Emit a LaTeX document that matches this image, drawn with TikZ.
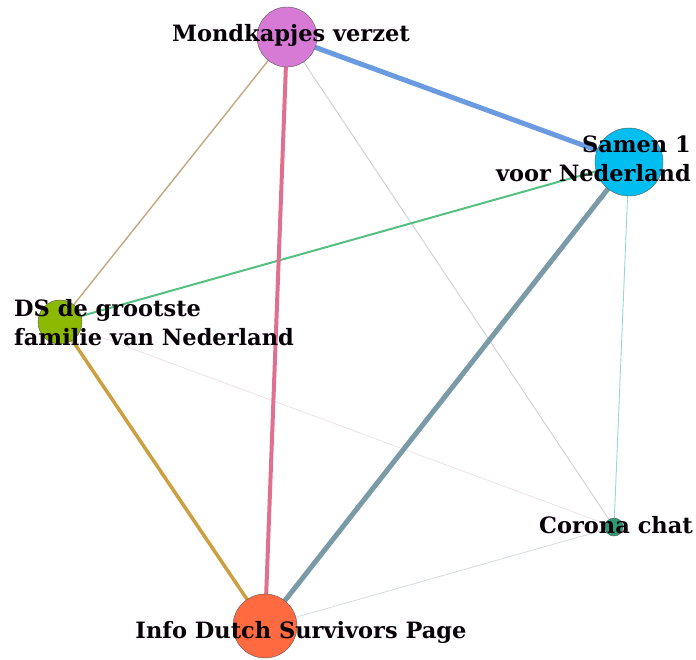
\documentclass[tikz,border=0pt]{standalone}
\usepackage{fontspec}
\setmainfont{DejaVu Serif}
\usetikzlibrary{backgrounds}

\definecolor{mondcol}{HTML}{D67AD6}
\definecolor{samencol}{HTML}{00BFF0}
\definecolor{dscol}{HTML}{8BB800}
\definecolor{coronacol}{HTML}{2E9A72}
\definecolor{infocol}{HTML}{FF6A40}

\begin{document}
\begin{tikzpicture}
[x=1pt,y=-1pt,line cap=round,%
  group/.style={shape=circle,inner sep=0pt,draw=black!65,thin},%
  tag/.style={font=\bfseries\fontsize{22.5}{29}\selectfont,text=black!95!violet,inner sep=0pt}]
\useasboundingbox (0,0) rectangle (696,659);
\node[group,minimum size=60pt,fill=mondcol] (mond) at (287,37) {};
\node[group,minimum size=68pt,fill=samencol] (samen) at (629,162) {};
\node[group,minimum size=44pt,fill=dscol] (ds) at (60,322) {};
\node[group,minimum size=18pt,fill=coronacol] (corona) at (614,527) {};
\node[group,minimum size=64pt,fill=infocol] (info) at (265,626) {};
\begin{scope}[on background layer]
  \draw[line width=0.8pt,color={rgb,255:red,238;green,226;blue,234}] (ds.center) -- (corona.center);
  \draw[line width=0.8pt,color={rgb,255:red,214;green,220;blue,224}] (info.center) -- (corona.center);
  \draw[line width=0.9pt,color={rgb,255:red,208;green,208;blue,208}] (mond.center) -- (corona.center);
  \draw[line width=0.9pt,color={rgb,255:red,150;green,214;blue,224}] (samen.center) -- (corona.center);
  \draw[line width=1.4pt,color={rgb,255:red,196;green,166;blue,128}] (mond.center) -- (ds.center);
  \draw[line width=2pt,color={rgb,255:red,84;green,192;blue,130}] (samen.center) -- (ds.center);
  \draw[line width=3.5pt,color={rgb,255:red,204;green,160;blue,64}] (ds.center) -- (info.center);
  \draw[line width=4pt,color={rgb,255:red,224;green,112;blue,144}] (mond.center) -- (info.center);
  \draw[line width=5pt,color={rgb,255:red,122;green,154;blue,168}] (samen.center) -- (info.center);
  \draw[line width=5pt,color={rgb,255:red,106;green,155;blue,224}] (mond.center) -- (samen.center);
\end{scope}
% labels
\node[tag] (mondtxt) at (291,35) {Mondkapjes verzet};
\node[tag,align=right,anchor=east] (samentxt) at (691,159) {Samen 1\\voor Nederland};
\node[tag,align=left,anchor=west] (dstxt) at (14,323) {DS de grootste\\familie van Nederland};
\node[tag] (coronatxt) at (616,525) {Corona chat};
\node[tag] (infotxt) at (301,632) {Info Dutch Survivors Page};
\end{tikzpicture}
\end{document}
